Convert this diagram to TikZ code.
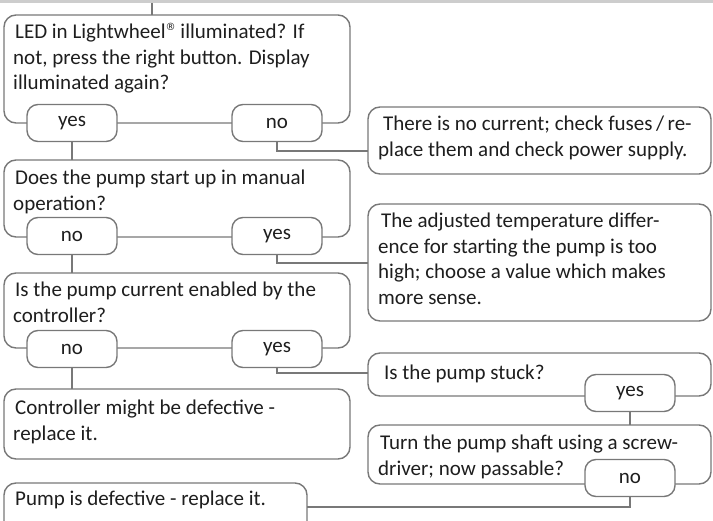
\documentclass[tikz,border=0pt]{standalone}
\usepackage{fontspec}
\setmainfont{Carlito}
\newfontfamily\symfont{DejaVu Sans}
\definecolor{linegray}{RGB}{120,120,120}
\definecolor{txtgray}{RGB}{30,30,30}
\definecolor{bandgray}{RGB}{205,205,205}
\newcommand{\regmark}{\raisebox{0.8ex}{\symfont\fontsize{10}{10}\selectfont ®}}
\tikzset{
  conn/.style={draw=linegray, line width=1.4pt},
  boxshape/.style={draw=linegray, line width=1.4pt, rounded corners=12pt, fill=white},
  pill/.style={draw=linegray, line width=1.4pt, rounded corners=11pt, fill=white,
    minimum width=90pt, minimum height=37pt, inner sep=0pt, text=txtgray,
    font=\fontsize{21}{24}\selectfont},
  txt/.style={anchor=base west, inner sep=0pt, align=left, text=txtgray,
    font=\fontsize{21}{25.5}\selectfont}
}
\begin{document}
\begin{tikzpicture}[x=1pt,y=-1pt]
\useasboundingbox (0,0) rectangle (713,521);
% top band
\fill[bandgray] (0,0) rectangle (713,3);
\coordinate (top) at (152,3);
% boxes
\draw[boxshape] (4,15) rectangle (350,123);
\node[inner sep=0pt, minimum width=346pt, minimum height=108pt] (b1) at (177,69) {};
\draw[boxshape] (368,107) rectangle (711,174);
\node[inner sep=0pt, minimum width=343pt, minimum height=67pt] (t1) at (539.5,140.5) {};
\draw[boxshape] (4,160) rectangle (350,237);
\node[inner sep=0pt, minimum width=346pt, minimum height=77pt] (b2) at (177,198.5) {};
\draw[boxshape] (368,204) rectangle (711,321);
\node[inner sep=0pt, minimum width=343pt, minimum height=117pt] (adj) at (539.5,262.5) {};
\draw[boxshape] (4,273) rectangle (350,348);
\node[inner sep=0pt, minimum width=346pt, minimum height=75pt] (b3) at (177,310.5) {};
\draw[boxshape] (368,353) rectangle (711,396);
\node[inner sep=0pt, minimum width=343pt, minimum height=43pt] (stuck) at (539.5,374.5) {};
\draw[boxshape] (4,389) rectangle (350,459);
\node[inner sep=0pt, minimum width=346pt, minimum height=70pt] (ctrl) at (177,424) {};
\draw[boxshape] (368,425) rectangle (711,484);
\node[inner sep=0pt, minimum width=343pt, minimum height=59pt] (turn) at (539.5,454.5) {};
\draw[boxshape] (4,483) rectangle (307,545);
\node[inner sep=0pt, minimum width=303pt, minimum height=62pt] (pump) at (155.5,514) {};
% texts (anchor = baseline of the last line)
\node[txt] (tx1) at (13,90) {\hspace{2pt}LED in Lightwheel\regmark{} illuminated? If\\not, press the right button. Display\\illuminated again?};
\node[txt] (tx2) at (378,156.5) {\hspace{5pt}There is no current; check fuses\,/\,re-\\place them and check power supply.};
\node[txt] (tx3) at (13,210.5) {\hspace{2pt}Does the pump start up in manual\\operation?};
\node[txt] (tx4) at (378,304.5) {\hspace{3pt}The adjusted temperature differ-\\ence for starting the pump is too\\high; choose a value which makes\\more sense.};
\node[txt] (tx5) at (13,322.5) {\hspace{2pt}Is the pump current enabled by the\\controller?};
\node[txt] (tx6) at (378,380) {\hspace{6pt}Is the pump stuck?};
\node[txt] (tx7) at (13,440.5) {\hspace{2pt}Controller might be defective -\\replace it.};
\node[txt] (tx8) at (378,475.5) {\hspace{2pt}Turn the pump shaft using a screw-\\driver; now passable?};
\node[txt] (tx9) at (13,506) {\hspace{2pt}Pump is defective - replace it.};
% pills
\node[pill] (p1y) at (72,123) {yes};
\node[pill] (p1n) at (277,123) {no};
\node[pill] (p2n) at (72,236) {no};
\node[pill] (p2y) at (277,236) {yes};
\node[pill] (p3n) at (72,349) {no};
\node[pill] (p3y) at (277,349) {yes};
\node[pill] (p4y) at (630,393) {yes};
\node[pill] (p5n) at (630,478) {no};
% connector bend points
\coordinate (c1) at (277,151);
\coordinate (c2) at (277,263);
\coordinate (c3) at (277,373);
\coordinate (c5) at (630,507);
% connectors
\draw[conn] (top) -- (top |- b1.north);
\draw[conn] (p1y.south) -- (p1y.south |- b2.north);
\draw[conn] (p1n.south) -- (c1) -- (c1 -| t1.west);
\draw[conn] (p2n.south) -- (p2n.south |- b3.north);
\draw[conn] (p2y.south) -- (c2) -- (c2 -| adj.west);
\draw[conn] (p3n.south) -- (p3n.south |- ctrl.north);
\draw[conn] (p3y.south) -- (c3) -- (c3 -| stuck.west);
\draw[conn] (p4y.south) -- (p4y.south |- turn.north);
\draw[conn] (p5n.south) -- (c5) -- (c5 -| pump.east);
\end{tikzpicture}
\end{document}
